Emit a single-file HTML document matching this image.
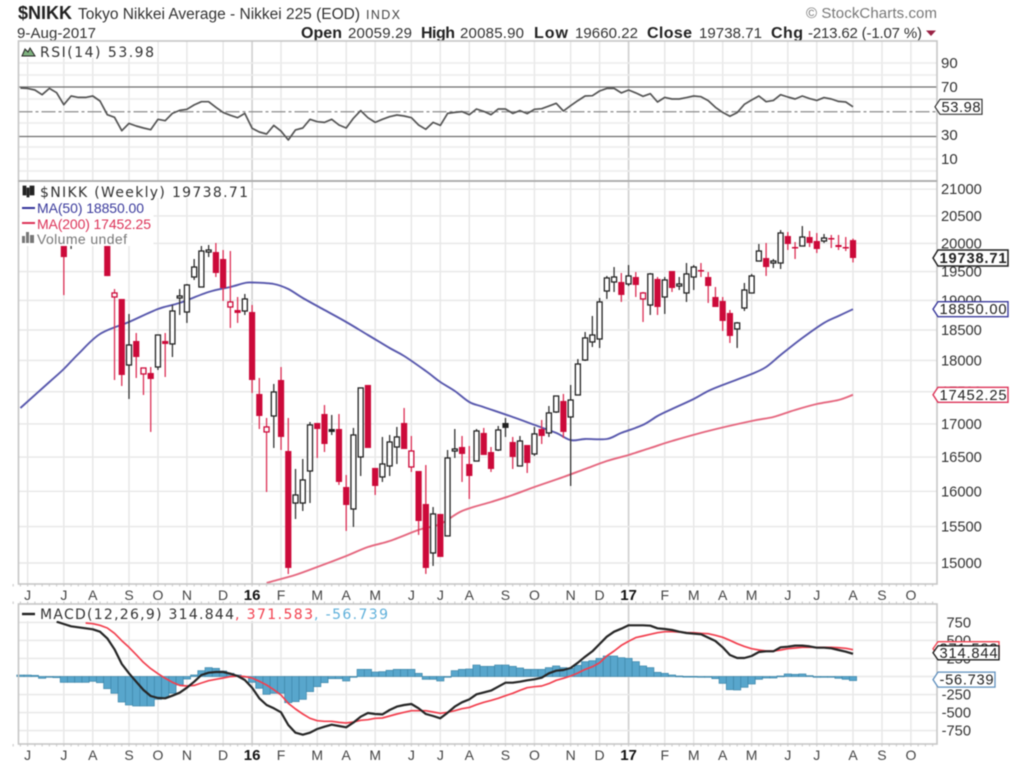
<!DOCTYPE html>
<html lang="en">
<head>
<meta charset="utf-8">
<title>$NIKK Tokyo Nikkei Average chart</title>
<style>
html,body{margin:0;padding:0;background:#fff;width:1024px;height:773px;overflow:hidden}
svg{display:block;filter:blur(0.6px);font-family:"Liberation Sans",sans-serif}
</style>
</head>
<body>
<svg id="chart" xmlns="http://www.w3.org/2000/svg" width="1024" height="773" viewBox="0 0 1024 773">
  <rect x="0" y="0" width="1024" height="773" fill="#fff"/>
  <g id="grid"></g>
  <g id="rsi"></g>
  <g id="main"></g>
  <g id="macd"></g>

  <g fill="#222">
    <text x="18" y="19" font-size="18" font-weight="bold" textLength="54">$NIKK</text>
    <text x="78" y="19" font-size="15.5" fill="#333" textLength="282">Tokyo Nikkei Average - Nikkei 225 (EOD)</text>
    <text x="366" y="19" font-size="12.5" fill="#444" textLength="34">INDX</text>
    <text x="17" y="38" font-size="15" fill="#333" textLength="79">9-Aug-2017</text>
    <text x="301" y="38" font-size="16" font-weight="bold" textLength="41">Open</text>
    <text x="348" y="38" font-size="15" fill="#333" textLength="64">20059.29</text>
    <text x="421" y="38" font-size="16" font-weight="bold" textLength="34">High</text>
    <text x="460" y="38" font-size="15" fill="#333" textLength="64">20085.90</text>
    <text x="534" y="38" font-size="16" font-weight="bold" textLength="34">Low</text>
    <text x="575" y="38" font-size="15" fill="#333" textLength="63">19660.22</text>
    <text x="647" y="38" font-size="16" font-weight="bold" textLength="45">Close</text>
    <text x="699" y="38" font-size="15" fill="#333" textLength="63">19738.71</text>
    <text x="771" y="38" font-size="16" font-weight="bold" textLength="32">Chg</text>
    <text x="808" y="38" font-size="15" fill="#333" textLength="114">-213.62 (-1.07 %)</text>
    <path d="M926 30.5h10l-5 5.5z" fill="#992244"/>
    <text x="806" y="18" font-size="15" fill="#777" textLength="131">© StockCharts.com</text>
  </g>
</svg>
<script>
/* ---------- price data: oldest week first, final entry is the latest week ---------- */
const opens = [20205,20135,20100,20240,20280,20170,20060,20280,20315,20350,20350,20240,19058,19024,17926,18318,17782,17798,17894,18318,18269,19041,18802,19404,19230,19845,19845,19721,18887,18836,18819,18802,17465,16878,17122,17686,16591,15832,15832,16295,17015,17153,16923,16923,16062,15747,16502,17607,16340,16208,16369,16651,17015,16354,16295,15818,15136,15677,15370,16591,16651,16398,16442,16863,16576,16606,17015,16726,16369,16681,16547,16923,16863,17184,17355,17107,17449,18007,18302,18351,19161,19317,19317,19282,19404,19024,18921,19370,19058,19509,19247,19127,19404,19526,19404,19058,18990,18786,18517,18870,19127,19685,19738,19650,19650,20133,19935,19953,20115,20043,20043,20097,19971,19935,20059.29];
const highs = [20330,20280,20330,20390,20390,20240,20390,20390,20426,20460,20426,20315,19195,19024,18769,18450,17878,17894,18417,18450,18921,19195,19282,19721,19953,19971,20007,19881,19863,19058,19110,18921,17718,17092,17623,17894,17092,16325,16472,17030,17015,17292,17138,17153,16237,16939,17560,17607,16340,16802,16832,16954,17246,16817,16295,16383,15775,15677,16606,16923,16817,16666,16923,16939,16651,16969,17092,16802,16817,16681,16954,17061,17277,17433,17465,17607,18023,18467,18735,19041,19422,19579,19474,19614,19491,19144,19474,19404,19404,19509,19404,19650,19614,19650,19491,19230,19058,18836,18634,19300,19457,19989,20007,19721,20242,20206,20025,20315,20224,20188,20170,20152,20152,20115,20085.9];
const lows = [20061,20005,19990,20060,20100,19090,19900,20060,20135,20100,20135,19420,17686,17591,17386,17718,17449,16878,17846,17734,18056,18752,18618,19352,19230,19756,19404,18990,18534,18618,18752,17481,16923,15990,16636,16606,14853,15606,15719,15832,16487,16576,16832,16092,15439,15495,16222,16636,15947,16135,16222,16398,16621,16281,15384,14853,14960,15082,15370,16487,16135,15889,16442,16532,16281,16591,16802,16325,16369,16266,16517,16696,16802,17169,16787,16077,17449,17991,18219,18203,19024,19144,18973,19247,19058,18634,18752,18752,18769,19144,19178,18973,19178,19404,18956,18887,18484,18285,18203,18819,19127,19685,19422,19561,19544,19881,19721,19953,19935,19827,20007,19917,19881,19863,19660.22];
const closes = [20135,20100,20240,20280,20170,19755,20280,20315,20350,20390,20315,19420,19127,17766,18252,18056,17878,17702,18417,18269,18819,19075,19265,19579,19863,19881,19474,19213,18973,18786,19024,17686,17122,16954,17496,16802,14933,15947,16164,16985,16923,16696,16878,16135,15804,16832,17560,16636,16077,16398,16726,16802,16621,16591,15578,14933,15677,15082,16487,16621,16547,16222,16893,16532,16325,16908,16939,16502,16741,16413,16848,16817,17169,17433,16878,17370,17942,18368,18417,18973,19387,19404,19093,19422,19265,19127,19457,18887,19352,19213,19282,19457,19579,19509,19247,18887,18651,18401,18618,19178,19422,19863,19579,19685,20188,19989,19917,20115,20007,19899,20097,20079,19935,19917,19738.71];

/* moving averages, read at the listed weeks-before-latest */
const ma50Weeks = [115,111,109,107,104,100,96,93,89,86,84,83,80,78,76,73,70,67,64,62,59,57,55,53,51,47,44,41,39,37,34,32,29,27,25,22,20,18,14,12,10,7,4,2,0];
const ma50Values = [17245,17654,17862,18105,18434,18634,18853,18956,19144,19230,19300,19308,19282,19195,19041,18836,18634,18417,18203,18072,17830,17654,17512,17339,17260,17107,16985,16863,16754,16771,16771,16863,16985,17122,17230,17386,17512,17607,17782,17894,18088,18368,18618,18735,18850];
const ma200Weeks = [81,80,77,74,70,67,64,60,57,54,50,47,44,40,37,34,31,28,25,20,14,11,8,5,2,0];
const ma200Values = [14733,14760,14840,14946,15095,15218,15300,15453,15536,15719,15847,15947,16062,16207,16325,16442,16532,16636,16741,16893,17045,17107,17215,17308,17370,17452.25];

/* RSI(14), weekly, oldest first */
const rsiValues = [69.2,68.9,67.6,63.8,68.9,65.4,55.7,62.7,61.6,61.6,62.7,58.7,47.6,45.5,34.7,40.6,38.5,36.9,35.5,43.9,42.8,48.7,51.1,52,55.5,58.1,58.1,53.6,49.5,47.1,45.2,48.7,36.6,33.6,32,39,34.4,27.2,35.3,36.9,43.9,42,41.4,43.9,39.3,36.9,44.7,50.9,45.2,41.4,43.9,46,47.4,46.6,45.2,39.3,35.8,41.4,39,48.7,49.5,50.1,47.6,52.2,50.3,47.6,52.2,52.2,48.7,50.9,48.5,52,52.5,54.6,56.8,50.6,54.9,59,62.7,63,66.8,68.9,68.9,65.2,67.6,65.2,62.5,64.6,57.9,61.6,60.3,60.3,61.4,62.7,62.2,59,53.6,49.5,46.3,49.3,56,59.5,62.7,58.1,59.2,63.8,61.9,60.3,62.7,60.6,59.2,61.4,60.3,58.4,57.9,53.98];

/* MACD(12,26,9), weekly, oldest first */
const macdValues = [760,728,696,682,668,654,622,529,377,173,44,-72,-187,-270,-298,-303,-266,-224,-155,-72,21,53,62,62,39,7,-49,-155,-303,-395,-441,-497,-673,-779,-807,-779,-728,-696,-668,-687,-705,-640,-557,-506,-520,-525,-465,-418,-395,-381,-441,-520,-548,-580,-502,-418,-358,-317,-247,-220,-196,-141,-86,-86,-72,-53,-39,-16,44,81,90,118,192,275,349,451,552,622,663,710,710,710,705,668,659,645,622,603,594,585,539,492,405,298,257,257,284,340,349,349,405,414,428,428,418,400,400,391,368,344,314.844];
const signalValues = [742,733,710,673,599,497,405,303,196,109,39,-25,-81,-123,-132,-123,-90,-58,-39,-21,-2,7,-2,-21,-67,-118,-183,-257,-372,-451,-520,-580,-613,-622,-622,-636,-645,-631,-608,-599,-580,-576,-548,-520,-497,-474,-474,-474,-492,-511,-497,-474,-446,-428,-391,-358,-331,-303,-266,-233,-192,-155,-141,-132,-99,-53,-25,7,49,99,136,192,284,354,432,488,539,562,585,608,622,622,617,608,608,599,594,571,543,502,455,418,386,368,354,354,368,386,395,405,405,405,405,405,400,391,371.583];
const histValues = [20,20,16,-25,-7,-16,-81,-81,-81,-81,-67,-86,-169,-233,-354,-395,-409,-409,-409,-317,-294,-233,-118,-35,21,81,123,113,76,44,21,-12,-81,-164,-247,-233,-233,-363,-349,-317,-210,-141,-86,-30,-30,-62,-2,99,99,62,67,86,99,99,99,44,-39,-39,-62,-2,81,99,104,159,141,141,159,159,141,118,99,99,99,123,146,123,113,155,206,220,252,284,284,261,252,206,146,123,58,44,21,7,2,2,-2,-7,-30,-95,-183,-187,-150,-104,-39,-21,-21,7,35,30,35,12,-2,-2,-7,-25,-39,-56.739];

/* axis tick labels */
const monthLabels = ["J","J","A","S","O","N","D","16","F","M","A","M","J","J","A","S","O","N","D","17","F","M","A","M","J","J","A","S","O"];
const monthWeeks = [114,109,105,100,96,92,87,83,79,74,70,66,61,57,53,48,44,39,35,31,26,22,18,14,9,5,0,-4,-8];
const priceTicks = [21000,20500,20000,19500,19000,18500,18000,17500,17000,16500,16000,15500,15000];
const rsiGrid = [90,80,60,40,20,10,0];
const rsiTicks = [90,70,30,10];
const macdTicks = [750,500,250,0,-250,-500,-750];

/* axis functions */
const xWeek = k => 853 - k * 7.24;
const yPrice = p => 563 - 1111 * Math.log(p / 15000);
const yRsi = v => 87 + (70 - v) * 1.2375;
const yRsiScale = v => 87 + (70 - v) * 1.2;
const yMacd = v => 676.5 - v * 0.0721;

const NS = 'http://www.w3.org/2000/svg';
const gridG = document.getElementById('grid');
const rsiG = document.getElementById('rsi');
const mainG = document.getElementById('main');
const macdG = document.getElementById('macd');
function mk(tag, attrs, parent) {
  const n = document.createElementNS(NS, tag);
  for (const a in attrs) n.setAttribute(a, attrs[a]);
  parent.appendChild(n);
  return n;
}
function polyOf(kList, yList) {
  return kList.map((k, i) => xWeek(k).toFixed(1) + ',' + yList[i].toFixed(1)).join(' ');
}
/* smooth curve through the read points, for the moving averages */
function smoothPath(kList, yList) {
  const px = kList.map(xWeek);
  let d = 'M' + px[0].toFixed(1) + ' ' + yList[0].toFixed(1);
  for (let i = 0; i < px.length - 1; i++) {
    const a = Math.max(i - 1, 0), b = Math.min(i + 2, px.length - 1);
    const c1x = px[i] + (px[i + 1] - px[a]) / 6, c1y = yList[i] + (yList[i + 1] - yList[a]) / 6;
    const c2x = px[i + 1] - (px[b] - px[i]) / 6, c2y = yList[i + 1] - (yList[b] - yList[i]) / 6;
    d += 'C' + c1x.toFixed(1) + ' ' + c1y.toFixed(1) + ' ' + c2x.toFixed(1) + ' ' + c2y.toFixed(1) + ' ' + px[i + 1].toFixed(1) + ' ' + yList[i + 1].toFixed(1);
  }
  return d;
}
const endAligned = arr => arr.map((_, i) => arr.length - 1 - i);

/* panel geometry */
const L = 18.5, R = 937, RT = 41, MT = 181, MB = 584, DT = 604, DB = 744;

/* vertical gridlines + month labels */
monthWeeks.forEach((k, i) => {
  const yr = monthLabels[i].length === 2;
  [[RT, MT], [MT, MB], [DT, DB]].forEach(span => {
    const v = mk('line', {x1: xWeek(k), x2: xWeek(k), y1: span[0], y2: span[1], stroke: yr ? '#cfcfcf' : '#e6e6e6', 'stroke-width': yr ? 1.6 : 1.4}, gridG);
    
    
  });
  [600, 760].forEach(by => {
    const t = mk('text', {x: xWeek(k), y: by, 'text-anchor': 'middle', 'font-size': yr ? 15 : 14, 'font-weight': yr ? 'bold' : 'normal', fill: yr ? '#111' : '#444'}, gridG);
    t.textContent = monthLabels[i];
    
    
  });
});

/* weekly tick marks along frames */
for (let k = 116; k >= -11; k--) {
  [[MB, MB + 2.5], [DT - 2.5, DT], [DB, DB + 2.5]].forEach(s => {
    const tk = mk('line', {x1: xWeek(k), x2: xWeek(k), y1: s[0], y2: s[1], stroke: '#cfcfcf', 'stroke-width': 1.2}, gridG);
    
    
  });
}

/* RSI panel */
rsiGrid.forEach(v => {
  const g = mk('line', {x1: L, x2: R, y1: yRsiScale(v), y2: yRsiScale(v), stroke: '#ececec', 'stroke-width': 1.4}, gridG);
  
  
});
rsiTicks.forEach(v => {
  const t = mk('text', {x: 941, y: yRsiScale(v) + 5, 'font-size': 15, fill: '#333'}, rsiG);
  t.textContent = v;
  
  
});
[70, 30].forEach(v => {
  const g = mk('line', {x1: L, x2: R, y1: yRsi(v), y2: yRsi(v), stroke: '#6e6e6e', 'stroke-width': 1.3}, rsiG);
  
  
});
const midRsi = mk('line', {x1: L, x2: R, y1: yRsi(50), y2: yRsi(50), stroke: '#8c8c8c', 'stroke-width': 1.2, 'stroke-dasharray': '14 3 3 3'}, rsiG);


const rsiLine = mk('polyline', {points: polyOf(endAligned(rsiValues), rsiValues.map(yRsi)), fill: 'none', stroke: '#555', 'stroke-width': 1.7, 'stroke-linejoin': 'round'}, rsiG);



/* price panel gridlines */
priceTicks.forEach(p => {
  const g = mk('line', {x1: L, x2: R, y1: yPrice(p), y2: yPrice(p), stroke: '#e8e8e8', 'stroke-width': 1.4}, gridG);
  
  
  const t = mk('text', {x: 941, y: yPrice(p) + 5, 'font-size': 14.7, fill: '#333'}, mainG);
  t.textContent = p;
  
  
});

/* moving averages */
const ma50Line = mk('path', {d: smoothPath(ma50Weeks, ma50Values.map(yPrice)), fill: 'none', stroke: '#5858ad', 'stroke-width': 1.9, 'stroke-linejoin': 'round'}, mainG);


const ma200Line = mk('path', {d: smoothPath(ma200Weeks, ma200Values.map(yPrice)), fill: 'none', stroke: '#e5677f', 'stroke-width': 1.9, 'stroke-linejoin': 'round'}, mainG);



/* candlesticks */
closes.forEach((c, i) => {
  const k = closes.length - 1 - i;
  const o = opens[i];
  const prev = i > 0 ? closes[i - 1] : o;
  const down = c < prev;
  const filled = c < o;
  const col = down ? '#cc0a3a' : '#222';
  const x = xWeek(k);
  const wick = mk('line', {x1: x, x2: x, y1: yPrice(highs[i]), y2: yPrice(lows[i]), stroke: down ? '#dc2f55' : '#333', 'stroke-width': 1.3}, mainG);
  
  
  const top = yPrice(Math.max(o, c));
  const h = Math.max(yPrice(Math.min(o, c)) - top, 1.5);
  const body = mk('rect', filled
    ? {x: x - 3.1, y: top, width: 6.2, height: h, fill: col}
    : {x: x - 2.5, y: top, width: 5, height: h, fill: '#fff', stroke: col, 'stroke-width': 1.3}, mainG);
  
  
});

/* MACD panel */
macdTicks.forEach(v => {
  const g = mk('line', {x1: L, x2: R, y1: yMacd(v), y2: yMacd(v), stroke: '#e8e8e8', 'stroke-width': 1.4}, gridG);
  
  
  const t = mk('text', {x: 971, y: yMacd(v) + 5, 'text-anchor': 'end', 'font-size': 14.7, fill: '#333'}, macdG);
  t.textContent = v;
  
  
});
histValues.forEach((v, i) => {
  const k = histValues.length - 1 - i;
  const y0 = yMacd(0), y1 = yMacd(v);
  const bar = mk('rect', {x: xWeek(k) - 3.62, y: Math.min(y0, y1), width: 7.24, height: Math.max(Math.abs(y1 - y0), 0.8), fill: '#58a6cc', stroke: '#3f87aa', 'stroke-width': 0.7}, macdG);
  
  
});
const signalLine = mk('polyline', {points: polyOf(endAligned(signalValues), signalValues.map(yMacd)), fill: 'none', stroke: '#f2404f', 'stroke-width': 1.7, 'stroke-linejoin': 'round'}, macdG);


const macdLine = mk('polyline', {points: polyOf(endAligned(macdValues), macdValues.map(yMacd)), fill: 'none', stroke: '#262626', 'stroke-width': 2.2, 'stroke-linejoin': 'round'}, macdG);



/* legends (white backing hides what is underneath) */
function legendBox(x, y, w, h, name, parent) {
  const b = mk('rect', {x: x, y: y, width: w, height: h, fill: '#fff'}, parent);
  
  
}
function legendText(str, x, y, len, fill, font, size, name, parent) {
  const t = mk('text', {x: x, y: y, textLength: len, fill: fill, 'font-family': font, 'font-size': size}, parent);
  t.textContent = str;
  
  
}
const DJ = '"DejaVu Sans",sans-serif';
const LS = '"Liberation Sans",sans-serif';

legendBox(19.5, 42, 138, 16, 'rsi-legend-background', rsiG);
const rsiIcon = mk('path', {d: 'M22 56l3-7 3 3 2-4 5 8z', fill: '#7fb27f', stroke: '#222', 'stroke-width': 1}, rsiG);


legendText('RSI(14) 53.98', 40, 57, 114, '#333', DJ, 14, 'rsi-legend', rsiG);

legendBox(19.5, 182, 232, 16, 'price-legend-background', mainG);
legendBox(19.5, 198, 134, 48, 'ma-legend-background', mainG);
const candleIcon = mk('path', {d: 'M23 186h3v9h-3zM27 188h2v9h-2zM30 186h4v9h-4z', fill: '#222', stroke: '#222', 'stroke-width': 0.8}, mainG);


legendText('$NIKK (Weekly) 19738.71', 40, 197, 208, '#333', DJ, 14, 'price-legend', mainG);
const ma50Key = mk('line', {x1: 22, x2: 35, y1: 208, y2: 208, stroke: '#33339a', 'stroke-width': 2}, mainG);


legendText('MA(50) 18850.00', 37, 213, 107, '#3a3a9c', LS, 14, 'ma50-legend', mainG);
const ma200Key = mk('line', {x1: 22, x2: 35, y1: 223, y2: 223, stroke: '#dc3358', 'stroke-width': 2}, mainG);


legendText('MA(200) 17452.25', 37, 229, 114, '#dc3358', LS, 14, 'ma200-legend', mainG);
const volIcon = mk('path', {d: 'M22 243v-7h3v7zM26 243v-11h3v11zM30 243v-8h4v8z', fill: '#777'}, mainG);


legendText('Volume undef', 37, 244, 90, '#777', LS, 14, 'volume-legend', mainG);

legendBox(19.5, 605, 372, 16, 'macd-legend-background', macdG);
const macdKey = mk('line', {x1: 22, x2: 35, y1: 614, y2: 614, stroke: '#222', 'stroke-width': 2.4}, macdG);


legendText('MACD(12,26,9) 314.844', 40, 619, 194, '#333', DJ, 14, 'macd-legend', macdG);
legendText(', 371.583', 235, 619, 78, '#f2404f', DJ, 14, 'signal-legend', macdG);
legendText(', -56.739', 314, 619, 74, '#5fb0da', DJ, 14, 'histogram-legend', macdG);

/* panel frames */
[[L, RT, R - L, MT - RT, 'rsi-frame'], [L, MT, R - L, MB - MT, 'price-frame'], [L, DT, R - L, DB - DT, 'macd-frame']].forEach(f => {
  const r = mk('rect', {x: f[0], y: f[1], width: f[2], height: f[3], fill: 'none', stroke: '#c6c6c6', 'stroke-width': 1.6}, gridG.parentNode);
  
  
});
const sep = mk('line', {x1: L, x2: R, y1: MT, y2: MT, stroke: '#a8a8a8', 'stroke-width': 1.4}, gridG.parentNode);



/* value tags on the right axis */
function tag(cy, left, right, h, stroke, strokeW, label, bold, name) {
  const p = left - 5;
  const d = 'M' + p + ' ' + cy + 'L' + left + ' ' + (cy - h / 2) + 'H' + right + 'V' + (cy + h / 2) + 'H' + left + 'Z';
  const s = mk('path', {d: d, fill: '#fff', stroke: stroke, 'stroke-width': strokeW}, gridG.parentNode);
  
  
  const t = mk('text', {x: left + 1.5, y: cy + 5, textLength: right - left - 3, 'font-size': 14.7, 'font-weight': bold ? 'bold' : 'normal', fill: '#222'}, gridG.parentNode);
  t.textContent = label;
  
  
}
const lastOf = a => a[a.length - 1];
tag(yRsi(lastOf(rsiValues)), 940, 982, 15, '#333', 1.2, lastOf(rsiValues).toFixed(2), false, 'rsi-value');
tag(yPrice(lastOf(closes)), 938, 1008, 16, '#222', 1.5, lastOf(closes).toFixed(2), true, 'close-value');
tag(yPrice(lastOf(ma50Values)), 938, 1008, 15, '#3a3a9c', 1.4, lastOf(ma50Values).toFixed(2), false, 'ma50-value');
tag(yPrice(lastOf(ma200Values)), 938, 1008, 15, '#dc3358', 1.4, lastOf(ma200Values).toFixed(2), false, 'ma200-value');
tag(yMacd(lastOf(signalValues)) - 1, 938, 999, 14, '#f2404f', 1.3, lastOf(signalValues).toFixed(3), false, 'signal-value');
tag(yMacd(lastOf(macdValues)) - 1, 938, 999, 14, '#222', 1.4, lastOf(macdValues).toFixed(3), false, 'macd-value');
tag(yMacd(lastOf(histValues)) - 1, 938, 995, 15, '#5f8fbd', 1.3, lastOf(histValues).toFixed(3), false, 'histogram-value');
</script>
</body>
</html>
